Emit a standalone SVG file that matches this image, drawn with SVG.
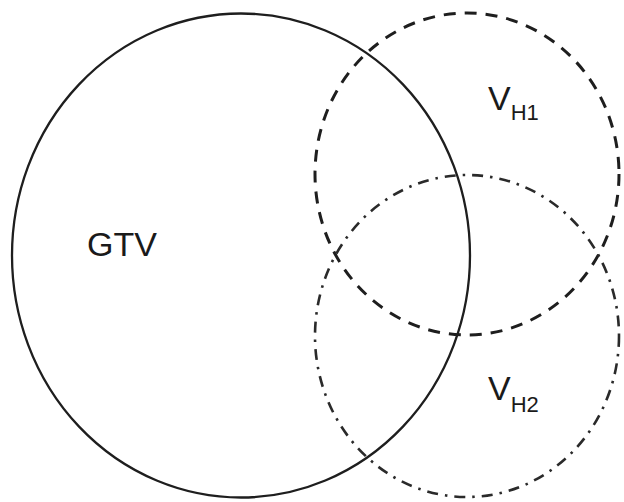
<svg xmlns="http://www.w3.org/2000/svg" width="624" height="502" viewBox="0 0 624 502">
  <style>
    .region { fill: none; stroke: #1e1e1e; }
    .gtv { stroke-width: 2.3; }
    .h1 { stroke-width: 3; stroke-dasharray: 12 9; }
    .h2 { stroke: #2a2a2a; stroke-width: 2.6; stroke-dasharray: 11 7 2.5 7; }
    .label { font-family: "Liberation Sans", Arial, sans-serif; fill: #1a1a1a; }
  </style>
  <rect width="624" height="502" fill="#ffffff"/>
  <g id="gtv">
    <ellipse class="region gtv" cx="241" cy="255.5" rx="229" ry="242"/>
    <text class="label" x="87" y="256" font-size="34">GTV</text>
  </g>
  <g id="vh1">
    <ellipse class="region h1" cx="467" cy="174" rx="152" ry="161"/>
    <text class="label" x="488" y="110" font-size="34">V<tspan font-size="22" y="120">H1</tspan></text>
  </g>
  <g id="vh2">
    <ellipse class="region h2" cx="467" cy="336" rx="152" ry="161"/>
    <text class="label" x="488" y="400" font-size="34">V<tspan font-size="22" y="412">H2</tspan></text>
  </g>
  <g id="connectors"/>
</svg>
